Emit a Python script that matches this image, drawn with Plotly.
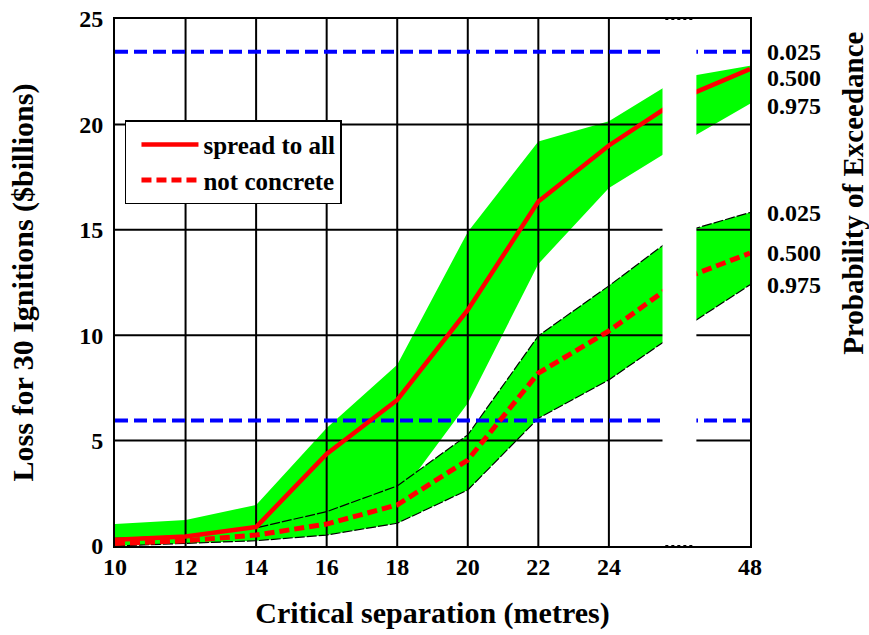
import plotly.graph_objects as go

# ---------------- data ----------------
separation = [10, 12, 14, 16, 18, 20, 22, 24, 26, 48]   # 26 lies inside the axis break
shown_ticks = [10, 12, 14, 16, 18, 20, 22, 24, 48]

spread_median = [0.30, 0.45, 0.90, 4.37, 6.93, 11.20, 16.34, 19.00, 21.20, 22.62]
spread_p025 = [1.04, 1.23, 1.95, 5.60, 8.60, 14.90, 19.19, 20.15, 22.20, 22.78]
spread_p975 = [0.05, 0.15, 0.40, 1.20, 2.25, 6.77, 13.38, 16.98, 19.05, 20.98]

notconc_median = [0.12, 0.25, 0.52, 1.04, 1.95, 4.08, 8.20, 10.20, 12.62, 13.89]
notconc_p025 = [0.36, 0.49, 0.86, 1.63, 2.85, 5.27, 9.97, 12.34, 14.85, 15.82]
notconc_p975 = [0.00, 0.13, 0.25, 0.52, 1.08, 2.66, 6.06, 7.88, 10.20, 12.39]

thresholds = [23.45, 5.95]
y_ticks = [0, 5, 10, 15, 20, 25]
prob_labels = ["0.025", "0.500", "0.975"]

# ---------------- helpers ----------------
pos = {s: i for i, s in enumerate(separation)}
xp = [pos[s] for s in separation]
x_max = len(separation) - 1
y_max = y_ticks[-1]
break_pos = pos[26]

FONT = "Liberation Serif"
GREEN = "#00ff00"

fig = go.Figure()

def band(upper, lower, edge=None):
    fig.add_trace(go.Scatter(x=xp, y=upper, mode="lines",
                             line=dict(width=0 if edge is None else 1.2, color="black",
                                       dash="10px,2px"),
                             showlegend=False, hoverinfo="skip"))
    fig.add_trace(go.Scatter(x=xp, y=lower, mode="lines", fill="tonexty",
                             fillcolor=GREEN,
                             line=dict(width=0 if edge is None else 1.2, color="black",
                                       dash="10px,2px"),
                             showlegend=False, hoverinfo="skip"))

band(spread_p025, spread_p975)
band(notconc_p025, notconc_p975, edge=True)

# grid lines (drawn over the bands, as in the original)
gx, gy = [], []
for s in shown_ticks[1:-1]:
    gx += [pos[s], pos[s], None]
    gy += [0, y_max, None]
for t in y_ticks[1:-1]:
    gx += [0, x_max, None]
    gy += [t, t, None]
fig.add_trace(go.Scatter(x=gx, y=gy, mode="lines", line=dict(color="black", width=2),
                         showlegend=False, hoverinfo="skip"))

# blue threshold lines
for t in thresholds:
    fig.add_trace(go.Scatter(x=[0, x_max], y=[t, t], mode="lines",
                             line=dict(color="#0000ff", width=4, dash="13px,6px"),
                             showlegend=False, hoverinfo="skip"))

fig.add_trace(go.Scatter(x=xp, y=spread_median, mode="lines", name="spread to all",
                         line=dict(color="#ff0000", width=4.5)))
fig.add_trace(go.Scatter(x=xp, y=notconc_median, mode="lines", name="not concrete",
                         line=dict(color="#ff0000", width=5, dash="10px,5px")))

# axis break
fig.add_shape(type="rect", x0=break_pos - 0.24, x1=break_pos + 0.24, y0=-0.4, y1=y_max + 0.4,
              xref="x", yref="y", fillcolor="white", line=dict(width=0), layer="above")
for yy in [0, y_max]:
    fig.add_shape(type="line", x0=break_pos - 0.2, x1=break_pos + 0.2, y0=yy, y1=yy,
                  xref="x", yref="y", line=dict(color="black", width=2, dash="dot"),
                  layer="above")

# probability labels on the right
LABFONT = dict(family=FONT, size=24, color="black", weight="bold")
shifts_top = [14, -9, -2]
for lab, v, sh in zip(prob_labels, [spread_p025[-1], spread_median[-1], spread_p975[-1]], shifts_top):
    fig.add_annotation(x=1.0236, xref="paper", y=v, yref="y", yshift=sh, text=lab,
                       showarrow=False, xanchor="left", yanchor="middle", font=LABFONT)
for lab, v in zip(prob_labels, [notconc_p025[-1], notconc_median[-1], notconc_p975[-1]]):
    fig.add_annotation(x=1.0236, xref="paper", y=v, yref="y", text=lab,
                       showarrow=False, xanchor="left", yanchor="middle", font=LABFONT)

fig.add_annotation(x=1.162, xref="paper", y=0.67, yref="paper", text="Probability of Exceedance",
                   textangle=-90, showarrow=False, xanchor="center", yanchor="middle",
                   font=dict(family=FONT, size=29, color="black", weight="bold"))

fig.update_layout(
    width=869, height=635,
    margin=dict(l=115, r=119, t=19, b=89),
    paper_bgcolor="white", plot_bgcolor="white",
    font=dict(family=FONT, size=24, color="black", weight="bold"),
    showlegend=True,
    legend=dict(x=0.0157, y=0.808, xanchor="left", yanchor="top", traceorder="normal",
                bgcolor="white", bordercolor="black", borderwidth=1.5,
                font=dict(family=FONT, size=25, color="black", weight="bold"),
                itemwidth=57, indentation=10),
    xaxis=dict(range=[0, x_max], showgrid=False, zeroline=False, automargin=False,
               tickmode="array", tickvals=[pos[s] for s in shown_ticks],
               ticktext=[str(s) for s in shown_ticks], ticks="", ticklabelstandoff=-2,
               ticklabeloverflow="allow",
               tickfont=dict(family=FONT, size=24, weight="bold"),
               showline=True, linecolor="black", linewidth=2, mirror=True,
               title=dict(text="Critical separation (metres)", standoff=23,
                          font=dict(family=FONT, size=30, weight="bold"))),
    yaxis=dict(range=[0, y_max], showgrid=False, zeroline=False, automargin=False,
               tickmode="array", tickvals=y_ticks, ticks="", ticklabelstandoff=5,
               ticklabeloverflow="allow",
               tickfont=dict(family=FONT, size=24, weight="bold"),
               showline=True, linecolor="black", linewidth=2, mirror=True,
               title=dict(text="Loss for 30 Ignitions ($billions)", standoff=37,
                          font=dict(family=FONT, size=30, weight="bold"))),
)

# remove the default 8px page margin so the figure fills the window exactly
fig.write_html("out.html", config={"displayModeBar": False},
               post_script="document.body.style.margin='0';")
